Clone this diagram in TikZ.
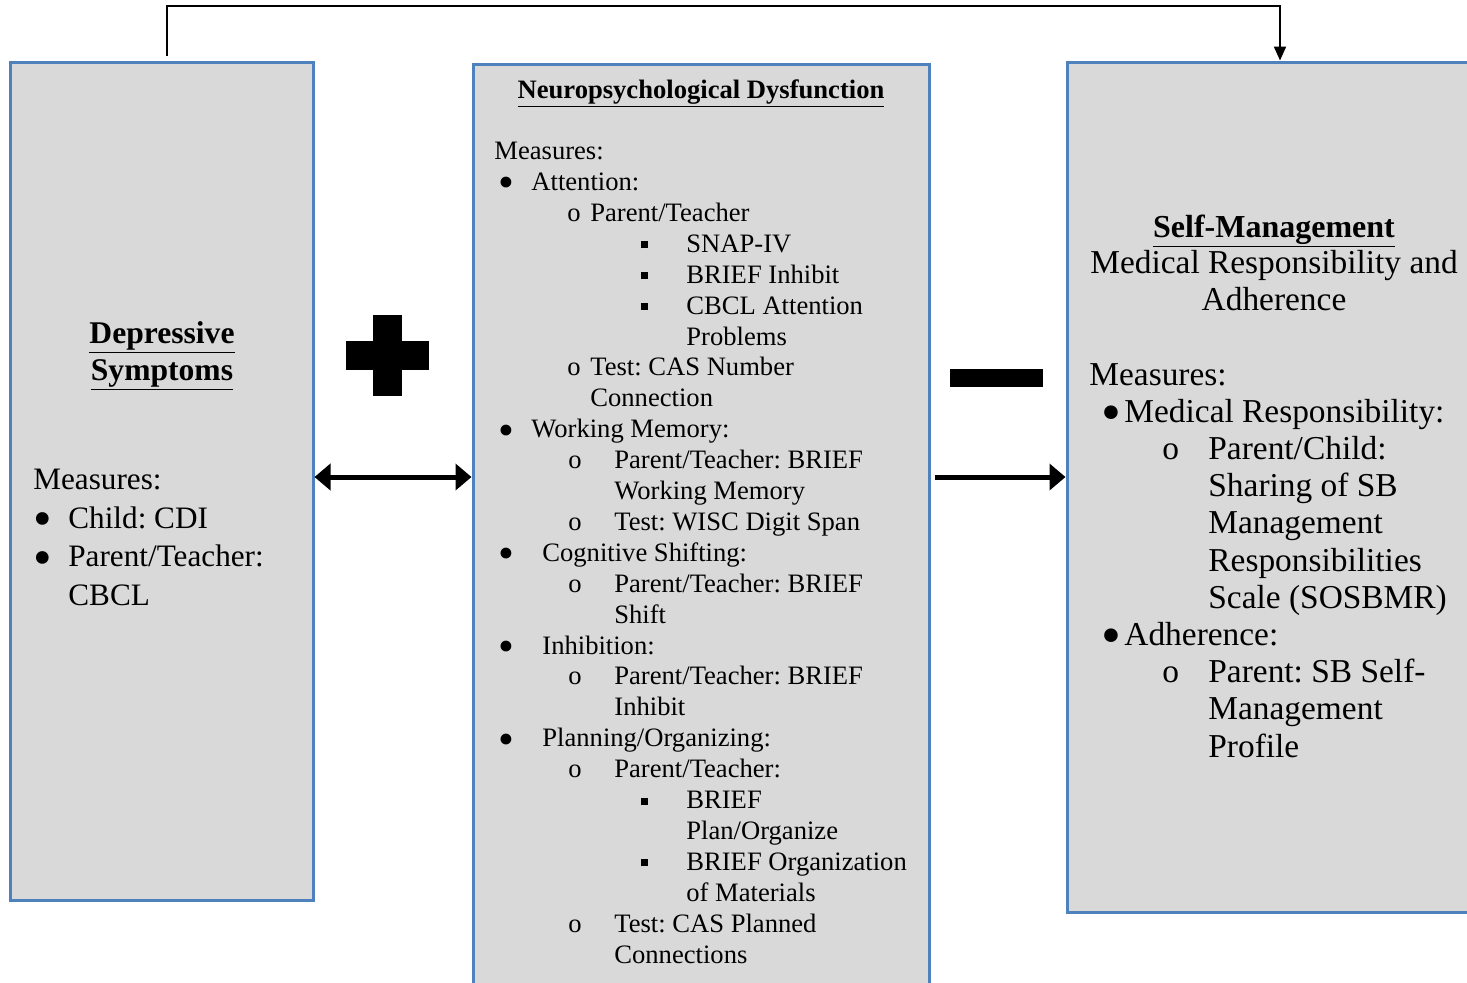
\documentclass[tikz,border=0pt]{standalone}
\usepackage{fontspec}
\setmainfont{Liberation Serif}
\usetikzlibrary{arrows.meta, positioning}
\frenchspacing
\definecolor{boxblue}{RGB}{79,129,189}
\definecolor{boxgray}{RGB}{217,217,217}
\newcommand{\dotb}{\raisebox{-0.28em}{\scalebox{1.7}{\textbullet}}}
\newcommand{\blt}[3]{\rlap{\hspace*{#1pt}#2}\hspace*{#3pt}}
\newcommand{\ind}[1]{\hspace*{#1pt}}
\newcommand{\sqbul}{\rule[2pt]{3.5pt}{3.5pt}}
\tikzstyle{panel} = [rectangle, draw=boxblue, fill=boxgray, line width=1.5pt, inner sep=0pt]
\tikzstyle{heading} = [align=center, inner sep=0pt, anchor=base]
\tikzstyle{listtext} = [align=left, inner sep=0pt, anchor=base west]
\tikzstyle{bigarrow} = [line width=2.5pt, >={Triangle[length=8pt,width=13pt]}]
\tikzstyle{link} = [line width=1pt, ->, >={Triangle[length=7pt,width=6pt]}]

\begin{document}
\begin{tikzpicture}[x=0.5pt, y=-0.5pt]
    \useasboundingbox (0,0) rectangle (1467,982);
    \clip (0,0) rectangle (1467,982);

    % Boxes
    \node (dep) [panel, minimum width=151.5pt, minimum height=419pt] at (161.5,481) {};
    \node (neuro) [panel, minimum width=228pt, minimum height=470pt] at (701,534) {};
    \node (self) [panel, minimum width=207pt, minimum height=425pt] at (1274,487) {};

    % Box texts (placed at the baseline of their last line)
    \node (deptitle) [heading, font=\bfseries\fontsize{15.8}{18.5}\selectfont] at (162,380) {\underline{Depressive}\\\underline{Symptoms}};
    \node (deplist) [listtext, font=\fontsize{15.6}{19.25}\selectfont] at (33,605) {Measures:\\
        \blt{0}{\dotb}{17.5}Child: CDI\\
        \blt{0}{\dotb}{17.5}Parent/Teacher:\\
        \ind{17.5}CBCL};

    \node (neurotitle) [heading, font=\bfseries\fontsize{13.3}{15.45}\selectfont] at (701,98) {\underline{Neuropsychological Dysfunction}};
    \node (neurolist) [listtext, font=\fontsize{13.3}{15.45}\selectfont] at (494,963) {Measures:\\
        \blt{2}{\dotb}{18.5}Attention:\\
        \blt{36.5}{o}{48}Parent/Teacher\\
        \blt{73.5}{\sqbul}{96}SNAP-IV\\
        \blt{73.5}{\sqbul}{96}BRIEF Inhibit\\
        \blt{73.5}{\sqbul}{96}CBCL Attention\\
        \ind{96}Problems\\
        \blt{36.5}{o}{48}Test: CAS Number\\
        \ind{48}Connection\\
        \blt{2}{\dotb}{18.5}Working Memory:\\
        \blt{37}{o}{60}Parent/Teacher: BRIEF\\
        \ind{60}Working Memory\\
        \blt{37}{o}{60}Test: WISC Digit Span\\
        \blt{2}{\dotb}{24}Cognitive Shifting:\\
        \blt{37}{o}{60}Parent/Teacher: BRIEF\\
        \ind{60}Shift\\
        \blt{2}{\dotb}{24}Inhibition:\\
        \blt{37}{o}{60}Parent/Teacher: BRIEF\\
        \ind{60}Inhibit\\
        \blt{2}{\dotb}{24}Planning/Organizing:\\
        \blt{37}{o}{60}Parent/Teacher:\\
        \blt{73.5}{\sqbul}{96}BRIEF\\
        \ind{96}Plan/Organize\\
        \blt{73.5}{\sqbul}{96}BRIEF Organization\\
        \ind{96}of Materials\\
        \blt{37}{o}{60}Test: CAS Planned\\
        \ind{60}Connections};

    \node (selftitle) [heading, font=\fontsize{16.7}{18.25}\selectfont] at (1274,310) {\textbf{\fontsize{16}{18.25}\selectfont\underline{Self-Management}}\\
        Medical Responsibility and\\Adherence};
    \node (selflist) [listtext, font=\fontsize{16.7}{18.6}\selectfont] at (1089,757) {Measures:\\
        \blt{6}{\dotb}{17.5}Medical Responsibility:\\
        \blt{36.5}{o}{59.5}Parent/Child:\\
        \ind{59.5}Sharing of SB\\
        \ind{59.5}Management\\
        \ind{59.5}Responsibilities\\
        \ind{59.5}Scale (SOSBMR)\\
        \blt{6}{\dotb}{17.5}Adherence:\\
        \blt{36.5}{o}{59.5}Parent: SB Self-\\
        \ind{59.5}Management\\
        \ind{59.5}Profile};

    % Signs
    \fill (373,315) rectangle (402,396);
    \fill (346,341) rectangle (429,370);
    \fill (950,369) rectangle (1043,387);

    % Arrows
    \coordinate (lvl) at (0,477);
    \draw [bigarrow, <->] (dep.east |- lvl) -- (neuro.west |- lvl);
    \draw [bigarrow, ->] ([xshift=2pt]neuro.east |- lvl) -- (self.west |- lvl);
    \draw [link] ([xshift=2.75pt,yshift=2.5pt]dep.north) -- ++(0,-50) -| ([xshift=3pt]self.north);

\end{tikzpicture}
\end{document}
